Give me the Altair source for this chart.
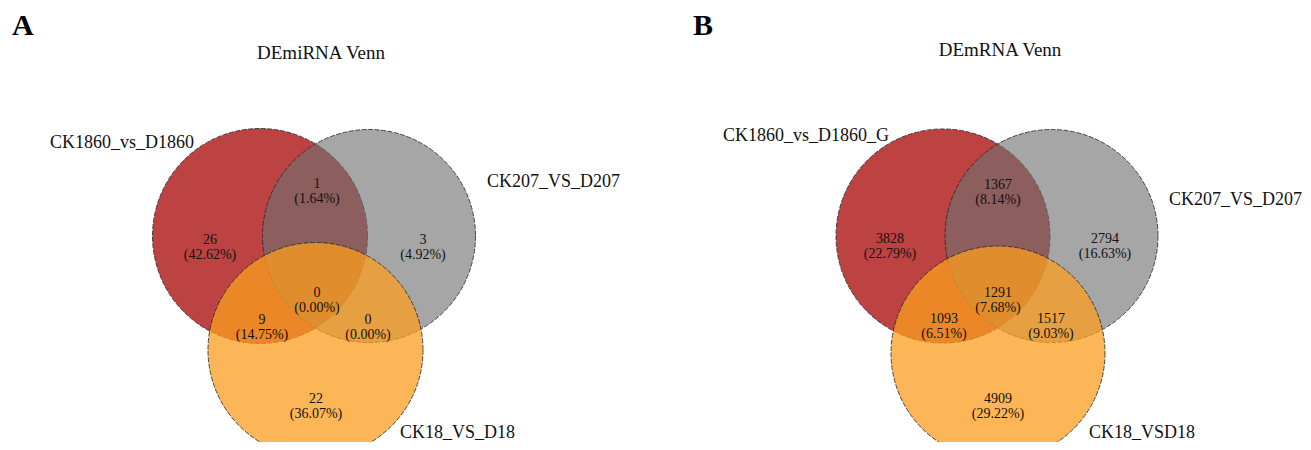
import altair as alt
import pandas as pd

# ---------------- values ----------------
panel_letters = ["A", "B"]
panel_titles = ["DEmiRNA Venn", "DEmRNA Venn"]
set_names_A = ["CK1860_vs_D1860", "CK207_VS_D207", "CK18_VS_D18"]
set_names_B = ["CK1860_vs_D1860_G", "CK207_VS_D207", "CK18_VSD18"]
set_keys = ["red", "grey", "orange"]
region_keys = ["red_only", "red_grey", "grey_only", "all", "red_orange", "grey_orange", "orange_only"]
counts_A = [26, 1, 3, 0, 9, 0, 22]
pcts_A = ["42.62%", "1.64%", "4.92%", "0.00%", "14.75%", "0.00%", "36.07%"]
counts_B = [3828, 1367, 2794, 1291, 1093, 1517, 4909]
pcts_B = ["22.79%", "8.14%", "16.63%", "7.68%", "6.51%", "9.03%", "29.22%"]

# ---------------- layout (page pixel units) ----------------
W, H = 1295, 434
circle_cx = {"A": [260, 369, 315.5], "B": [943, 1051.5, 998]}
circle_cy = {"A": [236, 236, 350], "B": [236, 236, 353]}
circle_r = {"A": [107.5, 106.5, 107.5], "B": [107, 106.5, 107]}
region_x = {"A": [210, 317, 423, 317, 262, 368, 316], "B": [890, 998, 1105, 998, 944, 1051, 998]}
region_y = {"A": [239.5, 184, 239.5, 292.5, 319.5, 319.5, 399], "B": [239, 185, 239, 292.5, 319, 319, 399]}
setlabel_x = {"A": [50, 487, 400], "B": [723, 1169, 1089]}
setlabel_y = {"A": [148, 187, 438], "B": [141, 205, 438]}
letter_x = [12, 693]
letter_y = [35, 35]
title_x = [321, 1000]
title_y = [59, 56]

fills = {"red": "#b22222", "grey": "#6f6f6f", "orange": "#fc9e1f"}
fill_opacity = {"red": 0.85, "grey": 0.62, "orange": 0.75}

# ---------------- tables ----------------
circ_rows = []
for p in panel_letters:
    for i, k in enumerate(set_keys):
        r = circle_r[p][i]
        # Vega circle symbol: radius = sqrt(size) / 2
        circ_rows.append({"panel": p, "set": k, "order": i,
                          "x": circle_cx[p][i], "y": circle_cy[p][i],
                          "size": (2 * r) ** 2})
circ_df = pd.DataFrame(circ_rows)

reg_rows = []
for p, counts, pcts in [("A", counts_A, pcts_A), ("B", counts_B, pcts_B)]:
    for i, k in enumerate(region_keys):
        reg_rows.append({"panel": p, "region": k,
                         "label": f"{counts[i]}\n({pcts[i]})",
                         "x": region_x[p][i], "y": region_y[p][i]})
reg_df = pd.DataFrame(reg_rows)

lab_rows = []
for p, names in [("A", set_names_A), ("B", set_names_B)]:
    for i, n in enumerate(names):
        lab_rows.append({"panel": p, "label": n, "x": setlabel_x[p][i], "y": setlabel_y[p][i]})
lab_df = pd.DataFrame(lab_rows)

letter_df = pd.DataFrame({"label": panel_letters, "x": letter_x, "y": letter_y})
title_df = pd.DataFrame({"label": panel_titles, "x": title_x, "y": title_y})

xs = alt.Scale(domain=[8, 8 + W], nice=False, zero=False)
ys = alt.Scale(domain=[8, 8 + H], nice=False, zero=False, reverse=True)
X = alt.X("x:Q", scale=xs, axis=None)
Y = alt.Y("y:Q", scale=ys, axis=None)

FONT = "Liberation Serif"

layers = []
for k in set_keys:
    layers.append(
        alt.Chart(circ_df[circ_df["set"] == k]).mark_point(
            shape="circle", filled=True, fill=fills[k], fillOpacity=fill_opacity[k],
            stroke="#2b2b2b", strokeWidth=1, strokeOpacity=0.85, strokeDash=[5, 1.5], opacity=1,
        ).encode(x=X, y=Y, size=alt.Size("size:Q", scale=None, legend=None))
    )

regions = alt.Chart(reg_df).mark_text(
    font=FONT, fontSize=14, lineBreak="\n", lineHeight=15, align="center",
    baseline="middle", color="#111111",
).encode(x=X, y=Y, text="label:N")

setlabels = alt.Chart(lab_df).mark_text(
    font=FONT, fontSize=18, align="left", baseline="alphabetic", color="#111111",
).encode(x=X, y=Y, text="label:N")

letters = alt.Chart(letter_df).mark_text(
    font=FONT, fontSize=30, fontWeight="bold", align="left", baseline="alphabetic", color="#000000",
).encode(x=X, y=Y, text="label:N")

titles = alt.Chart(title_df).mark_text(
    font=FONT, fontSize=19, align="center", baseline="alphabetic", color="#111111",
).encode(x=X, y=Y, text="label:N")

chart = alt.layer(*layers, regions, setlabels, letters, titles).properties(
    width=W, height=H, padding=0,
    autosize=alt.AutoSizeParams(type="none"),
    background="white",
).configure_view(stroke=None)

chart.save("out.html", embed_options={"renderer": "svg", "actions": False})
